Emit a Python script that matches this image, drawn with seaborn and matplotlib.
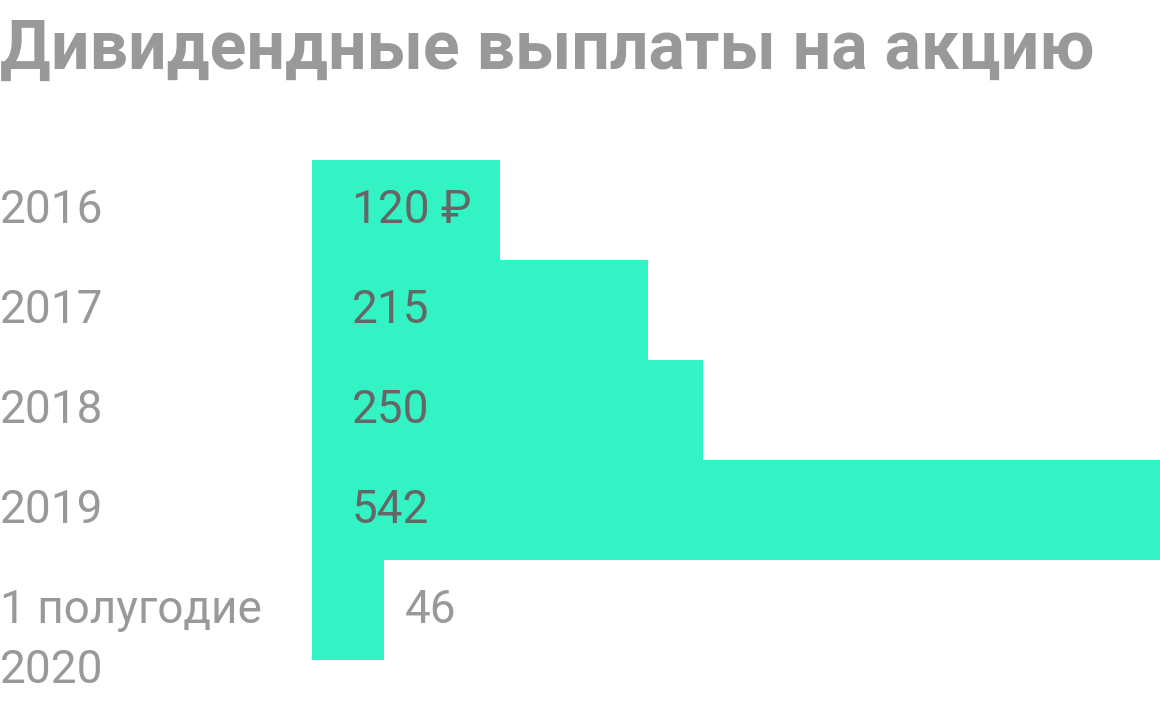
import matplotlib
matplotlib.use("Agg")
import matplotlib.pyplot as plt
import matplotlib.transforms as mtransforms
import seaborn as sns
import pandas as pd

categories = ["2016", "2017", "2018", "2019", "1 полугодие\n2020"]
values = [120, 215, 250, 542, 46]
value_labels = ["120 ₽", "215", "250", "542", "46"]

sns.set_theme(style="white")
plt.rcParams["font.family"] = ["Roboto", "DejaVu Sans"]

df = pd.DataFrame({"cat": categories, "val": values})

fig = plt.figure(figsize=(11.6, 7.04), dpi=100)
ax = fig.add_axes([312 / 1160, 1 - 660 / 704, 848 / 1160, 500 / 704])
sns.barplot(data=df, x="val", y="cat", color="#33F3C5", saturation=1, width=1.0,
            ax=ax, orient="h", linewidth=0, edgecolor="none")
ax.set_xlim(0, max(values))
ax.set_ylim(len(categories) - 0.5, -0.5)
ax.set_xlabel("")
ax.set_ylabel("")
ax.set_xticks([])
ax.set_yticks([])
for s in ax.spines.values():
    s.set_visible(False)

trans_lbl = mtransforms.blended_transform_factory(ax.transAxes, ax.transData)
x_lbl = -312 / 848
for i, c in enumerate(categories):
    lines = c.split("\n")
    ax.text(x_lbl, i, lines[0], transform=trans_lbl, ha="left", va="center",
            fontsize=33, color="#999999")
    for j, extra in enumerate(lines[1:], start=1):
        off = mtransforms.offset_copy(trans_lbl, fig=fig, y=-60 * j, units="dots")
        ax.text(x_lbl, i, extra, transform=off, ha="left", va="center",
                fontsize=33, color="#999999")

for i, (v, lab) in enumerate(zip(values, value_labels)):
    if v > 100:
        off = mtransforms.offset_copy(ax.transData, fig=fig, x=40, units="dots")
        ax.text(0, i, lab, transform=off, ha="left", va="center", fontsize=33, color="#666666")
    else:
        off = mtransforms.offset_copy(ax.transData, fig=fig, x=21, units="dots")
        ax.text(v, i, lab, transform=off, ha="left", va="center", fontsize=33, color="#999999")

fig.text(0, 1 - 50 / 704, "Дивидендные выплаты на акцию", ha="left", va="center",
         fontsize=49, fontweight="bold", color="#999999")

fig.savefig("out.png", dpi=100)
